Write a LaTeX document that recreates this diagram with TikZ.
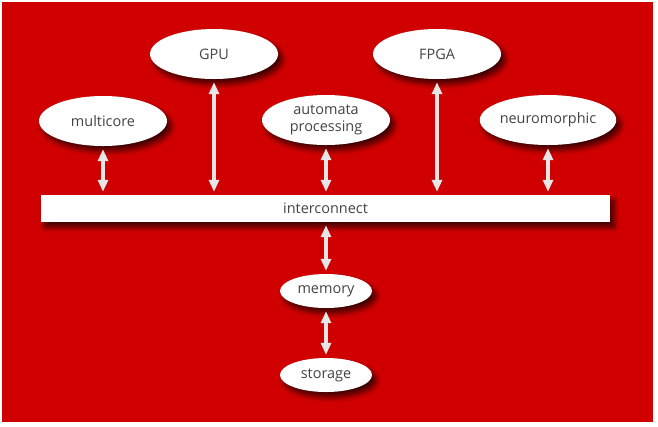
\documentclass[tikz,border=0pt]{standalone}
\usepackage{fontspec}
\setmainfont{Open Sans}
\usetikzlibrary{shapes.geometric,arrows.meta,shadows.blur}
\definecolor{bgred}{HTML}{D00000}
\definecolor{txt}{HTML}{444444}
\definecolor{arr}{HTML}{E6E6E6}
\tikzset{
  unitshadow/.style={blur shadow={shadow xshift=4bp, shadow yshift=-5bp, shadow blur steps=8, shadow opacity=70, shadow blur radius=5bp}},
  unit/.style={ellipse, fill=white, draw=none, minimum width=128bp, minimum height=50bp,
    inner sep=0pt, text=txt, font=\fontsize{14.5}{17}\selectfont, align=center, unitshadow},
  small/.style={unit, minimum width=92bp, minimum height=34bp},
  link/.style={draw=arr, line width=3.5bp, {Triangle[width=10bp,length=12bp]}-{Triangle[width=10bp,length=12bp]}, shorten <=3bp, shorten >=3bp}
}
\begin{document}
\begin{tikzpicture}[x=1bp,y=-1bp]
\useasboundingbox (0,0) rectangle (658,426);
\fill[white] (0,0) rectangle (658,426);
\fill[bgred] (2,2) rectangle (653,422);
\node[unit] (multicore) at (103,121) {multicore};
\node[unit] (gpu) at (214,54) {GPU};
\node[unit] (automata) at (326,120) {automata\\processing};
\node[unit] (fpga) at (437,54) {FPGA};
\node[unit] (neuro) at (548,120) {neuromorphic};
\node[rectangle, fill=white, minimum width=569bp, minimum height=27bp, inner sep=0pt, text=txt,
  font=\fontsize{14.5}{17}\selectfont, unitshadow]
  (ic) at (325.5,208.5) {interconnect};
\node[small] (memory) at (326,291) {memory};
\node[small] (storage) at (326,375) {storage};
\draw[link] (multicore.south) -- (multicore.south |- ic.north);
\draw[link] (gpu.south) -- (gpu.south |- ic.north);
\draw[link] (automata.south) -- (automata.south |- ic.north);
\draw[link] (fpga.south) -- (fpga.south |- ic.north);
\draw[link] (neuro.south) -- (neuro.south |- ic.north);
\draw[link] (ic.south -| memory.north) -- (memory.north);
\draw[link] (memory.south) -- (storage.north);
\end{tikzpicture}
\end{document}
